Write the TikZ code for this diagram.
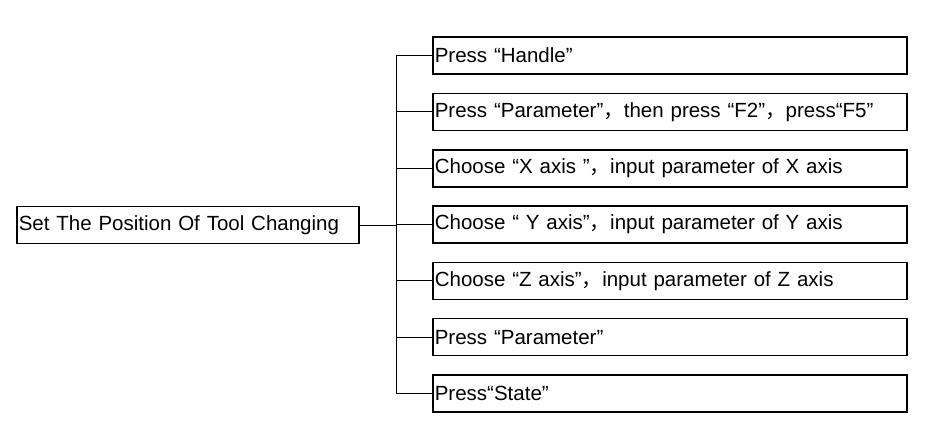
\documentclass[tikz,border=0pt]{standalone}
\usepackage{fontspec}
\setmainfont{Liberation Sans}
\newfontfamily\cjk{Noto Sans CJK SC}
\newcommand{\fwcomma}{{\cjk ，}}
\begin{document}
\begin{tikzpicture}[x=1pt,y=-1pt,
    stepbox/.style={draw, line width=1.6pt, minimum height=37pt, anchor=west, inner sep=2pt, align=left, font=\fontsize{20.5}{23}\selectfont}]
    \useasboundingbox (0,0) rectangle (939,440);
    % Caixa principal
    \node[stepbox, text width=338pt] (root) at (16,225) {Set The Position Of Tool Changing};
    % Passos: texto
    \foreach \name [count=\i] in {{Press “Handle”}, {Press “Parameter”\fwcomma then press “F2”\fwcomma press“F5”},
        {Choose “X axis ”\fwcomma input parameter of X axis}, {Choose “ Y axis”\fwcomma input parameter of Y axis},
        {Choose “Z axis”\fwcomma input parameter of Z axis}, {Press “Parameter”}, {Press“State”}} {
        \node[stepbox, text width=470pt] (s\i) at (432, {56.3*\i-0.7}) {\name};
        \draw[line width=1pt] (s\i.west) -- ++(-36,0) coordinate (j\i);
    }
    % Linha vertical
    \draw[line width=1pt] (j1) -- (j7);
    \draw[line width=1pt] (root.east) -- (root.east -| j1);
\end{tikzpicture}
\end{document}
